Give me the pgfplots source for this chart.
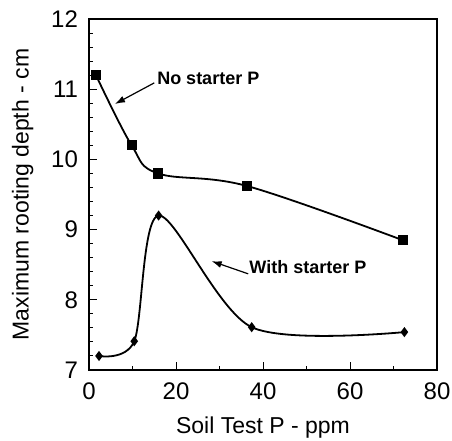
\documentclass[border=0pt]{standalone}
\usepackage{fontspec}
\setmainfont{Liberation Sans}
\usepackage{pgfplots}
\pgfplotsset{compat=1.18}
\usetikzlibrary{arrows.meta}
\begin{document}
\begin{tikzpicture}
\begin{axis}[
  scale only axis, width=174pt, height=175.5pt,
  xmin=0, xmax=80, ymin=7, ymax=12,
  xtick={0,20,...,80}, ytick={7,8,...,12},
  minor x tick num=1, minor y tick num=4,
  tick align=inside, tick pos=left,
  major tick length=4pt, minor tick length=2pt,
  axis line style={line width=0.6pt}, tick style={line width=0.5pt, black},
  /pgf/number format/assume math mode=true,
  ticklabel style={font=\fontsize{12}{14}\selectfont},
  xticklabel style={yshift=-3pt},
  yticklabel style={xshift=-2pt},
  xlabel={Soil Test P - ppm}, ylabel={Maximum rooting depth - cm},
  label style={font=\fontsize{11.5}{13.5}\selectfont},
  xlabel style={yshift=-1.5pt},
  ylabel style={yshift=2pt},
]
\addplot[black, line width=0.9pt, smooth, tension=0.6, mark=square*, mark size=2.1pt, mark options={solid}]
  coordinates {(1.6,11.2) (9.8,10.2) (15.9,9.8) (36.4,9.62) (72.1,8.85)};
\addplot[black, line width=0.9pt, smooth, tension=0.5, mark=diamond*, mark size=1.8pt, mark options={solid}]
  coordinates {(2.3,7.2) (10.4,7.41) (16,9.2) (37.4,7.61) (72.5,7.54)};
\node[anchor=base west, font=\fontsize{9}{11}\selectfont\bfseries, inner sep=0pt] at (axis cs:15.6,11.07) {No starter P};
\node[anchor=base west, font=\fontsize{9}{11}\selectfont\bfseries, inner sep=0pt] at (axis cs:36.8,8.37) {With starter P};
\draw[-{Latex[length=5pt,width=3.5pt]}, line width=0.6pt] (axis cs:15.0,11.09) -- (axis cs:5.98,10.79);
\draw[-{Latex[length=5pt,width=3.5pt]}, line width=0.6pt] (axis cs:36.6,8.37) -- (axis cs:28.2,8.55);
\end{axis}
\pgfresetboundingbox
\path ([xshift=-44.5pt,yshift=-35pt]current axis.south west) rectangle ([xshift=7.5pt,yshift=9.5pt]current axis.north east);
\end{tikzpicture}
\end{document}
